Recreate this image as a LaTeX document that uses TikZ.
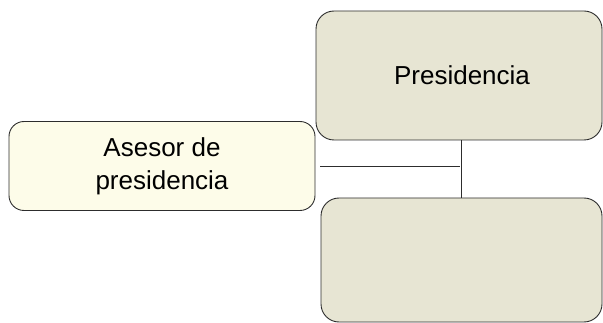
\documentclass[tikz,border=0pt]{standalone}
\usepackage{fontspec}
\setmainfont{Liberation Sans}
\usepackage{tikz}
\usetikzlibrary{positioning}

\definecolor{cremita}{RGB}{253,252,233}
\definecolor{beige}{RGB}{231,229,211}
\definecolor{borde}{RGB}{45,45,45}

\tikzset{
  caja/.style={draw=borde, line width=0.9pt, rounded corners=18pt, align=center,
    font=\fontsize{26}{33}\selectfont},
  linea/.style={draw=borde, line width=0.8pt}
}

\begin{document}
\begin{tikzpicture}[x=1pt,y=-1pt]
\useasboundingbox (0,0) rectangle (603,323);
\node[caja, fill=cremita, rounded corners=15pt, minimum width=306pt, minimum height=89pt] (asesor) at (162,166) {Asesor de\\presidencia};
\node[caja, fill=beige, minimum width=286pt, minimum height=129pt] (pres) at (459,75.5) {};
\node[font=\fontsize{26}{33}\selectfont] (prestxt) at (462,75) {Presidencia};
\node[caja, fill=beige, minimum width=281pt, minimum height=124pt] (vacia) at (461.5,260) {};
% conectores
\draw[linea] (pres.south -| vacia.north) -- (vacia.north);
\draw[linea] ([xshift=5pt]asesor.east) -- ([xshift=-2pt]asesor.east -| vacia.north);
\end{tikzpicture}
\end{document}
